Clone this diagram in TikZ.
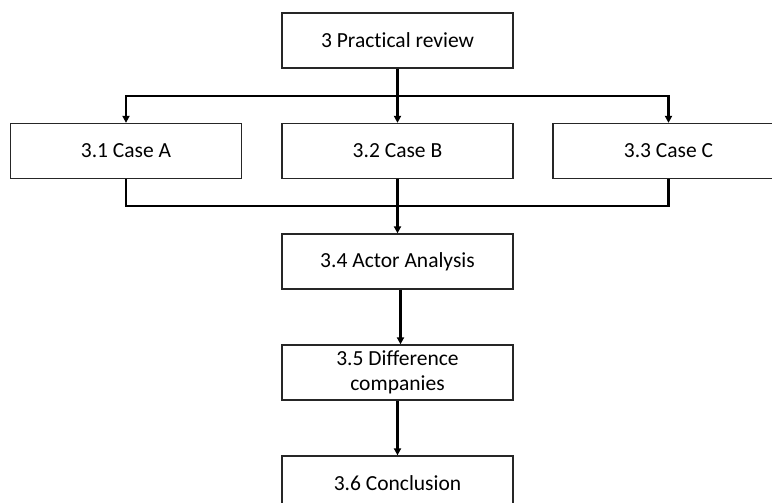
\documentclass[tikz,border=0pt]{standalone}
\usepackage{fontspec}
\setmainfont{Carlito}[Ligatures={NoCommon}]
\usetikzlibrary{arrows.meta}
\begin{document}
\begin{tikzpicture}[x=1pt,y=-1pt,
  box/.style={draw=black!85, line width=1.3pt, fill=white, minimum width=231pt,
    minimum height=55pt, inner sep=0pt, align=center,
    font=\fontsize{21.5}{25}\selectfont},
  conn/.style={line width=2.4pt, line join=miter},
  arr/.style={conn, -{Triangle[length=7pt,width=7pt]}}]
  \clip (0,0) rectangle (772,503);
  \useasboundingbox (0,0) rectangle (772,503);
  % section boxes
  \node[box] (top) at (397.5,40.5) {3 Practical review};
  \node[box] (ca) at (126,151) {3.1 Case A};
  \node[box] (cb) at (397.5,151) {3.2 Case B};
  \node[box] (cc) at (668.5,151) {3.3 Case C};
  \node[box] (act) at (397.5,261.5) {3.4 Actor Analysis};
  \node[box] (dif) at (397.5,372.5) {3.5 Difference\\companies};
  \node[box] (con) at (397.5,483.5) {3.6 Conclusion};
  % branching from the review into the three cases
  \coordinate (split) at (397.5,96);
  \draw[conn] (top.south) -- (split);
  \draw[arr] (split) -- (cb.north);
  \draw[arr] (split) -| (ca.north);
  \draw[arr] (split) -| (cc.north);
  % merging the cases into the actor analysis
  \coordinate (merge) at (397.5,206);
  \draw[conn] (ca.south) |- (merge);
  \draw[conn] (cc.south) |- (merge);
  \draw[arr] (cb.south) -- (act.north);
  % remaining chain
  \draw[arr] ([xshift=3pt]act.south) -- ([xshift=3pt]dif.north);
  \draw[arr] (dif.south) -- (con.north);
\end{tikzpicture}
\end{document}
